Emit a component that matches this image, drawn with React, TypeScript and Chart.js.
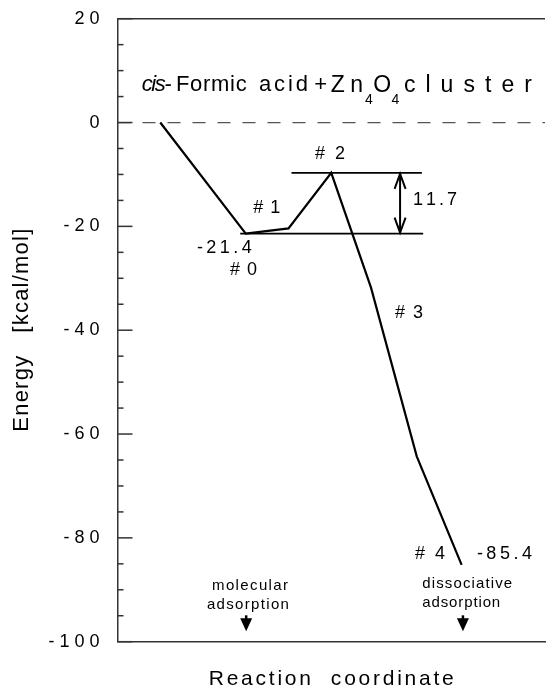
import { useEffect, useRef } from "react";
import { Chart, registerables } from "chart.js";
Chart.register(...registerables);

const FONT = "'Liberation Sans', Arial, Helvetica, sans-serif";

// Energy axis
const yMin = -100;
const yMax = 20;
const yTicks = [-100, -80, -60, -40, -20, 0, 20];
const minorTicks = [-95, -90, -85, -75, -70, -65, -55, -50, -45, -35, -30, -25, -15, -10, -5, 5, 10, 15];
// Reaction coordinate (arbitrary units)
const xMin = 0;
const xMax = 100;

// reaction path: start, #0, #1, #2, #3, kink, #4
const pathX = [10, 30, 40, 50, 59.3, 70, 80.5];
const pathY = [0, -21.4, -20.4, -9.7, -31.8, -64.3, -85.2];

const barrierTopY = -9.7;
const barrierBottomY = -21.4;
const barrierTopX = [40.7, 71.2];
const barrierBottomX = [28.7, 71.5];
const arrowX = 66.1;

// labels: text, x, y (data), target width px, font size, align
type Lbl = { t: string; x: number; y: number; w?: number; s: number; a: CanvasTextAlign; i?: boolean };
const labels: Lbl[] = [
  { t: "# 2", x: 49.7, y: -6.1, w: 30, s: 18, a: "center" },
  { t: "# 1", x: 34.9, y: -16.5, w: 27, s: 18, a: "center" },
  { t: "11.7", x: 69.1, y: -15.0, w: 44, s: 18, a: "left" },
  { t: "-21.4", x: 25.0, y: -24.2, w: 55, s: 18, a: "center" },
  { t: "# 0", x: 29.5, y: -28.4, w: 27, s: 18, a: "center" },
  { t: "# 3", x: 68.2, y: -36.7, w: 28, s: 18, a: "center" },
  { t: "# 4", x: 73.1, y: -83.2, w: 30, s: 18, a: "center" },
  { t: "-85.4", x: 90.5, y: -83.2, w: 55, s: 18, a: "center" },
  { t: "molecular", x: 31.0, y: -89.2, w: 76, s: 15, a: "center" },
  { t: "adsorption", x: 30.5, y: -93.0, w: 82, s: 15, a: "center" },
  { t: "dissociative", x: 81.8, y: -88.8, w: 90, s: 15, a: "center" },
  { t: "adsorption", x: 80.4, y: -92.6, w: 78, s: 15, a: "center" },
];
const titleParts: Lbl[] = [
  { t: "cis-", x: 5.66, y: 7.17, w: 30, s: 22, a: "left", i: true },
  { t: "Formic", x: 13.68, y: 7.17, w: 70.7, s: 22, a: "left" },
  { t: "acid", x: 33.1, y: 7.17, w: 49, s: 22, a: "left" },
  { t: "+", x: 46.0, y: 7.17, w: 10, s: 22, a: "left" },
  { t: "Zn", x: 49.9, y: 7.17, w: 32.3, s: 23, a: "left" },
  { t: "4", x: 57.9, y: 4.3, s: 14, a: "left" },
  { t: "O", x: 59.8, y: 7.17, w: 17, s: 23, a: "left" },
  { t: "4", x: 64.1, y: 4.3, s: 14, a: "left" },
  { t: "cluster", x: 67.0, y: 7.17, w: 128, s: 23, a: "left" },
];
const downArrowsX = [30.1, 80.8];
const downArrowTipY = -98;

function drawSpaced(ctx: CanvasRenderingContext2D, text: string, x: number, y: number, w: number | undefined, align: CanvasTextAlign) {
  const chars = text.split("");
  const widths = chars.map((c) => ctx.measureText(c).width);
  const natural = widths.reduce((a, b) => a + b, 0);
  const total = w ?? natural;
  const extra = chars.length > 1 ? (total - natural) / (chars.length - 1) : 0;
  let start = x;
  if (align === "center") start = x - total / 2;
  else if (align === "right") start = x - total;
  ctx.textAlign = "left";
  let cx = start;
  chars.forEach((c, k) => {
    ctx.fillText(c, cx, y);
    cx += widths[k] + extra;
  });
}

const decoPlugin = {
  id: "deco",
  afterDraw(chart: any) {
    const { ctx, chartArea } = chart;
    const xs = chart.scales.x;
    const ys = chart.scales.y;
    ctx.save();
    // top frame line
    ctx.strokeStyle = "#333";
    ctx.lineWidth = 1.5;
    ctx.beginPath();
    ctx.moveTo(chartArea.left, chartArea.top);
    ctx.lineTo(chartArea.right, chartArea.top);
    ctx.stroke();
    // inward ticks
    const L = chartArea.left;
    yTicks.forEach((v) => {
      const py = ys.getPixelForValue(v);
      ctx.beginPath();
      ctx.moveTo(L, py);
      ctx.lineTo(L + 15, py);
      ctx.stroke();
    });
    minorTicks.forEach((v) => {
      const py = ys.getPixelForValue(v);
      ctx.beginPath();
      ctx.moveTo(L, py);
      ctx.lineTo(L + 6, py);
      ctx.stroke();
    });
    // double arrow heads
    ctx.strokeStyle = "#000";
    ctx.lineWidth = 2;
    const ax = xs.getPixelForValue(arrowX);
    const ty = ys.getPixelForValue(barrierTopY);
    const by = ys.getPixelForValue(barrierBottomY);
    ctx.beginPath();
    ctx.moveTo(ax - 5.5, ty + 16);
    ctx.lineTo(ax, ty + 1);
    ctx.lineTo(ax + 5.5, ty + 16);
    ctx.moveTo(ax - 5.5, by - 16);
    ctx.lineTo(ax, by - 1);
    ctx.lineTo(ax + 5.5, by - 16);
    ctx.stroke();
    // down arrows
    ctx.fillStyle = "#000";
    downArrowsX.forEach((dx) => {
      const px = xs.getPixelForValue(dx);
      const tip = ys.getPixelForValue(downArrowTipY);
      ctx.beginPath();
      ctx.moveTo(px - 6, tip - 13);
      ctx.lineTo(px + 6, tip - 13);
      ctx.lineTo(px, tip);
      ctx.closePath();
      ctx.fill();
      ctx.lineWidth = 2.5;
      ctx.beginPath();
      ctx.moveTo(px, tip - 12);
      ctx.lineTo(px, tip - 16);
      ctx.stroke();
    });
    // labels
    ctx.fillStyle = "#000";
    ctx.textBaseline = "middle";
    [...labels, ...titleParts].forEach((l) => {
      ctx.font = `${l.i ? "italic " : ""}${l.s}px ${FONT}`;
      drawSpaced(ctx, l.t, xs.getPixelForValue(l.x), ys.getPixelForValue(l.y), l.w, l.a);
    });
    // axis titles
    ctx.font = `21px ${FONT}`;
    drawSpaced(ctx, "Reaction  coordinate", (chartArea.left + chartArea.right) / 2, 679, 245, "center");
    ctx.save();
    ctx.translate(22, (chartArea.top + chartArea.bottom) / 2);
    ctx.rotate(-Math.PI / 2);
    ctx.font = `22px ${FONT}`;
    drawSpaced(ctx, "Energy   [kcal/mol]", 0, 0, 203, "center");
    ctx.restore();
    ctx.restore();
  },
};

export default function App() {
  const ref = useRef<HTMLCanvasElement | null>(null);
  useEffect(() => {
    document.body.style.margin = "0";
    if (!ref.current) return;
    const line = (data: { x: number; y: number }[], color: string, width: number, dash: number[] = []) => ({
      data,
      showLine: true,
      borderColor: color,
      borderWidth: width,
      borderDash: dash,
      pointRadius: 0,
      fill: false,
      tension: 0,
    });
    const chart = new Chart(ref.current, {
      type: "scatter",
      data: {
        datasets: [
          line([{ x: xMin, y: 0 }, { x: xMax, y: 0 }], "#555", 1.2, [13, 12]),
          line(pathX.map((x, k) => ({ x, y: pathY[k] })), "#000", 2.2),
          line(barrierTopX.map((x) => ({ x, y: barrierTopY })), "#000", 1.6),
          line(barrierBottomX.map((x) => ({ x, y: barrierBottomY })), "#000", 1.6),
          line([{ x: arrowX, y: barrierTopY }, { x: arrowX, y: barrierBottomY }], "#000", 2),
        ] as any,
      },
      options: {
        animation: false,
        responsive: false,
        layout: { padding: { top: 18.7, right: 1, bottom: 0, left: 0 } },
        plugins: { legend: { display: false }, tooltip: { enabled: false }, title: { display: false } },
        scales: {
          x: {
            type: "linear",
            min: xMin,
            max: xMax,
            ticks: { display: false },
            grid: { display: false, drawTicks: false, tickLength: 0 },
            border: { display: true, color: "#333", width: 1.5 },
            afterFit: (s: any) => {
              s.height = 52.3;
              s.paddingLeft = 0;
              s.paddingRight = 0;
            },
          },
          y: {
            type: "linear",
            min: yMin,
            max: yMax,
            afterBuildTicks: (s: any) => {
              s.ticks = yTicks.map((v) => ({ value: v }));
            },
            ticks: {
              callback: (v: any) => String(v).split("").join(" "),
              font: { family: FONT, size: 18 },
              color: "#000",
              padding: 18,
            },
            grid: { display: false, drawTicks: false, tickLength: 0 },
            border: { display: true, color: "#333", width: 1.5 },
            afterFit: (s: any) => {
              s.width = 117.5;
              s.paddingTop = 0;
              s.paddingBottom = 0;
            },
          },
        },
      } as any,
      plugins: [decoPlugin],
    });
    return () => chart.destroy();
  }, []);
  return (
    <div style={{ width: 546, height: 694 }}>
      <canvas ref={ref} width={546} height={694} />
    </div>
  );
}
